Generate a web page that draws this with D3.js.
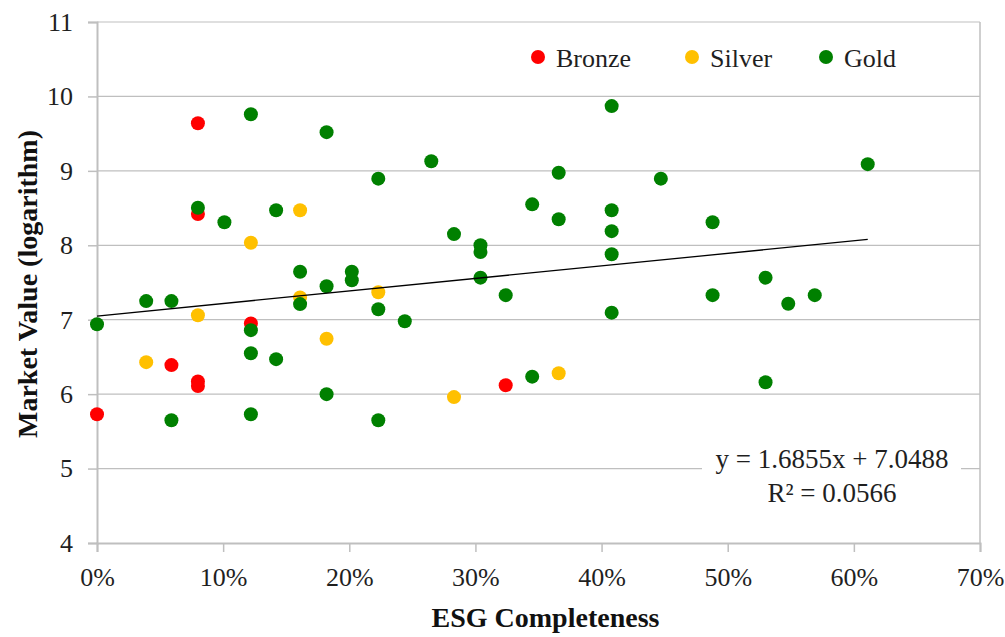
<!DOCTYPE html>
<html>
<head>
<meta charset="utf-8">
<script src="https://cdn.jsdelivr.net/npm/d3@7"></script>
<style>
  html, body { margin: 0; padding: 0; background: #fff; }
  svg text { font-family: "Liberation Serif", "DejaVu Serif", "Noto Serif", serif !important; }
</style>
</head>
<body>
<svg id="chart" width="1005" height="637"></svg>
<script>
// ESG completeness (share) vs. log market value, per rating tier
const bronze = [
  [0.080, 9.64], [0.080, 8.42], [0.122, 6.95], [0.059, 6.39],
  [0.080, 6.17], [0.080, 6.11], [0.000, 5.73], [0.324, 6.12]
];
const silver = [
  [0.161, 8.47], [0.122, 8.035], [0.161, 7.30], [0.080, 7.06],
  [0.223, 7.37], [0.182, 6.745], [0.039, 6.43], [0.283, 5.96], [0.366, 6.28]
];
const gold = [
  [0.122, 9.76], [0.182, 9.52], [0.080, 8.505], [0.101, 8.31], [0.142, 8.47],
  [0.161, 7.645], [0.182, 7.45], [0.039, 7.25], [0.059, 7.25], [0.161, 7.21],
  [0.000, 6.94], [0.122, 6.86], [0.122, 6.55], [0.142, 6.47], [0.059, 5.65],
  [0.122, 5.73], [0.182, 6.00], [0.408, 9.87], [0.265, 9.13], [0.223, 8.895],
  [0.366, 8.975], [0.447, 8.895], [0.345, 8.55], [0.366, 8.35], [0.408, 8.47],
  [0.408, 8.19], [0.283, 8.15], [0.304, 8.00], [0.304, 7.91], [0.408, 7.88],
  [0.202, 7.645], [0.202, 7.53], [0.304, 7.565], [0.324, 7.33], [0.223, 7.14],
  [0.244, 6.98], [0.408, 7.095], [0.345, 6.235], [0.223, 5.65], [0.611, 9.09],
  [0.488, 8.31], [0.530, 7.565], [0.488, 7.33], [0.548, 7.215], [0.569, 7.33],
  [0.530, 6.16]
];
const seriesNames = ["Bronze", "Silver", "Gold"];
const seriesColors = ["#FF0000", "#FFC000", "#008000"];
const xTicks = [0, 0.1, 0.2, 0.3, 0.4, 0.5, 0.6, 0.7];
const yTicks = [4, 5, 6, 7, 8, 9, 10, 11];
const trendSlope = 1.6855;
const trendIntercept = 7.0488;
const rSquared = 0.0566;

const svg = d3.select("#chart");
const plotLeft = 97, plotRight = 980, plotTop = 22, plotBottom = 543;

const x = d3.scaleLinear().domain([0, 0.7]).range([plotLeft, plotRight]);
const y = d3.scaleLinear().domain([4, 11]).range([plotBottom, plotTop]);

const gridColor = "#BFBFBF";
const textColor = "#1f1f1f";
const serifStack = "'Liberation Serif', 'DejaVu Serif', serif";

// horizontal gridlines
svg.append("g")
  .selectAll("line")
  .data(yTicks.filter(d => d > 4))
  .join("line")
  .attr("x1", plotLeft).attr("x2", plotRight)
  .attr("y1", d => y(d)).attr("y2", d => y(d))
  .attr("stroke", gridColor).attr("stroke-width", 1.2);

// right border of plot area
svg.append("line")
  .attr("x1", plotRight).attr("x2", plotRight)
  .attr("y1", plotTop).attr("y2", plotBottom)
  .attr("stroke", gridColor).attr("stroke-width", 1.5);

// axes
const yAxis = svg.append("g")
  .attr("transform", `translate(${plotLeft},0)`)
  .call(d3.axisLeft(y).tickValues(yTicks).tickSize(9).tickPadding(15).tickFormat(d3.format("d")));
const xAxis = svg.append("g")
  .attr("transform", `translate(0,${plotBottom})`)
  .call(d3.axisBottom(x).tickValues(xTicks).tickSize(9).tickPadding(16).tickFormat(d3.format(".0%")));

[yAxis, xAxis].forEach(g => {
  g.attr("font-family", serifStack);
  g.select(".domain").attr("stroke", gridColor).attr("stroke-width", 2);
  g.selectAll(".tick line").attr("stroke", gridColor).attr("stroke-width", 1.5);
  g.selectAll(".tick text")
    .attr("fill", textColor)
    .attr("font-family", serifStack)
    .style("font-size", "26px");
});

// equation label box (covers the gridline behind it)
const eqX = 832;
svg.append("rect")
  .attr("x", 702).attr("y", 444)
  .attr("width", 259).attr("height", 66)
  .attr("fill", "#fff");

// scatter markers, drawn in tier order
const allSeries = [bronze, silver, gold];
allSeries.forEach((data, i) => {
  svg.append("g")
    .selectAll("circle")
    .data(data)
    .join("circle")
    .attr("cx", d => x(d[0]))
    .attr("cy", d => y(d[1]))
    .attr("r", 7)
    .attr("fill", seriesColors[i]);
});

// linear trendline across the data range
const allX = allSeries.flat().map(d => d[0]);
const xMin = d3.min(allX), xMax = d3.max(allX);
svg.append("line")
  .attr("x1", x(xMin)).attr("y1", y(trendIntercept + trendSlope * xMin))
  .attr("x2", x(xMax)).attr("y2", y(trendIntercept + trendSlope * xMax))
  .attr("stroke", "#000").attr("stroke-width", 1.3);

// equation text
svg.append("text")
  .attr("x", eqX).attr("y", 468)
  .attr("text-anchor", "middle")
  .attr("fill", textColor)
  .attr("font-family", serifStack)
  .style("font-size", "27px")
  .text(`y = ${trendSlope}x + ${trendIntercept}`);
svg.append("text")
  .attr("x", eqX).attr("y", 502)
  .attr("text-anchor", "middle")
  .attr("fill", textColor)
  .attr("font-family", serifStack)
  .style("font-size", "27px")
  .text(`R² = ${rSquared}`);

// legend
const legendX = [538, 692, 826];
const legend = svg.append("g");
seriesNames.forEach((name, i) => {
  legend.append("circle")
    .attr("cx", legendX[i]).attr("cy", 57)
    .attr("r", 7).attr("fill", seriesColors[i]);
  legend.append("text")
    .attr("x", legendX[i] + 18).attr("y", 67)
    .attr("fill", textColor)
    .attr("font-family", serifStack)
    .style("font-size", "26px")
    .text(name);
});

// axis titles
svg.append("text")
  .attr("x", (plotLeft + plotRight) / 2 + 7).attr("y", 627)
  .attr("text-anchor", "middle")
  .attr("fill", "#111")
  .attr("font-family", serifStack)
  .style("font-size", "28px").style("font-weight", "bold")
  .text("ESG Completeness");
svg.append("text")
  .attr("transform", "translate(37,284) rotate(-90)")
  .attr("text-anchor", "middle")
  .attr("fill", "#111")
  .attr("font-family", serifStack)
  .style("font-size", "28px").style("font-weight", "bold")
  .text("Market Value (logarithm)");
</script>
</body>
</html>
